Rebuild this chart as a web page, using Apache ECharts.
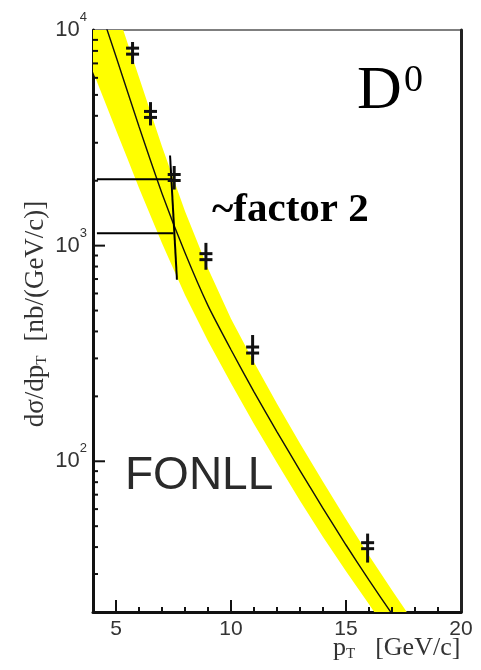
<!DOCTYPE html>
<html><head><meta charset="utf-8">
<script src="https://cdn.jsdelivr.net/npm/echarts@6/dist/echarts.min.js"></script>
<style>html,body{margin:0;padding:0;background:#fff}#c{width:481px;height:670px}</style>
</head><body><div id="c"></div>
<script>
// measured D0 cross-section points
const measPt   = [5.72, 6.5, 7.53, 8.91, 10.94, 15.94];
const measVal  = [7980, 4060, 2070, 889, 328, 40.6];
const measLow  = [6950, 3610, 1820, 773, 280, 33.9];
const measHigh = [8800, 4630, 2340, 1030, 385, 46.2];

// FONLL central curve
const fonllPt      = [4.5, 5, 6, 7, 8, 9, 10, 11, 12, 13, 14, 15, 16, 17, 17.5];
const fonllCentral = [10890, 7530, 3565, 1746, 927, 527, 329, 210, 137, 90.6, 60.5, 40.9, 28.1, 19.6, 16.4];

// FONLL uncertainty band edges
const bandUpperPt = [4, 5, 6, 7, 8, 9, 10, 11, 12, 13, 14, 15, 16, 17, 18, 18.5];
const bandUpper   = [26400, 12600, 6030, 2880, 1445, 783, 458, 288, 185, 121, 80.3, 53.8, 36.6, 25.2, 17.6, 14.7];
const bandLowerPt = [3.5, 4, 4.5, 5, 5.5, 6, 7, 8, 9, 10, 11, 12, 13, 14, 15, 16, 17, 17.5];
const bandLower   = [8410, 6400, 4700, 3440, 2530, 1850, 1026, 590, 361, 230, 149, 98.4, 65.6, 44.6, 30.9, 21.7, 15.1, 12.6];

// "~factor 2" annotation
const factorLevels = [2030, 1140];
const factorFrom   = [4.17, 4.17];
const factorTo     = [7.45, 7.5];
const factorBarPt  = [7.35, 7.65];
const factorBarVal = [2620, 695];

// ticks and labels
const xMajorTicks = [5, 10, 15];
const xMinorTicks = [6, 7, 8, 9, 11, 12, 13, 14, 16, 17, 18, 19];
const xTickLabels = [5, 10, 15, 20];
const yMajorTicks = [100, 1000];
const yMinorTicks = [20, 30, 40, 50, 60, 70, 80, 90, 200, 300, 400, 500, 600, 700, 800, 900,
                     2000, 3000, 4000, 5000, 6000, 7000, 8000, 9000];
const yTickLabels = [100, 1000, 10000];

const X_MIN = 4, X_MAX = 20, Y_MIN = 20, Y_MAX = 10000;

const chart = echarts.init(document.getElementById('c'), null, {renderer: 'canvas'});

const sans = '"Liberation Sans", Arial, sans-serif';
const serif = '"Liberation Serif", "Times New Roman", serif';

const option = {
  animation: false,
  backgroundColor: '#fff',
  grid: {left: 93, right: 20, top: 30, bottom: 58, show: true, borderColor: '#555', borderWidth: 1.5},
  xAxis: {
    type: 'value', min: X_MIN, max: X_MAX, interval: 1,
    axisLine: {show: true, lineStyle: {color: '#111', width: 3}},
    axisTick: {show: false},
    splitLine: {show: false},
    axisLabel: {
      margin: 7, color: '#333', fontFamily: sans, fontSize: 21,
      formatter: v => xTickLabels.includes(v) ? String(v) : ''
    }
  },
  yAxis: [{
    type: 'log', logBase: 10, min: Y_MIN, max: Y_MAX,
    axisLine: {show: true, lineStyle: {color: '#111', width: 3}},
    axisTick: {show: false},
    splitLine: {show: false},
    axisLabel: {
      margin: 6,
      formatter: v => {
        const e = Math.log10(v);
        const r = Math.round(e);
        if (Math.abs(e - r) < 1e-6 && yTickLabels.includes(Math.pow(10, r))) return '{b|10}{s|' + r + '}';
        return '';
      },
      rich: {
        b: {fontFamily: sans, fontSize: 22, color: '#333', lineHeight: 38},
        s: {fontFamily: sans, fontSize: 13, color: '#333', lineHeight: 13, verticalAlign: 'top'}
      }
    }
  }, {
    type: 'log', logBase: 10, min: Y_MIN, max: Y_MAX, position: 'right',
    axisLine: {show: true, lineStyle: {color: '#222', width: 3}},
    axisTick: {show: false}, axisLabel: {show: false}, splitLine: {show: false}
  }],
  series: [
    {
      name: 'band', type: 'custom', clip: true, z: 1,
      data: [[10, 100]],
      renderItem: function (params, api) {
        const pts = [];
        bandUpperPt.forEach((x, i) => pts.push(api.coord([x, bandUpper[i]])));
        for (let i = bandLowerPt.length - 1; i >= 0; i--) pts.push(api.coord([bandLowerPt[i], bandLower[i]]));
        return {type: 'polygon', shape: {points: pts}, style: {fill: '#ffff00', stroke: null}};
      }
    },
    {
      name: 'FONLL', type: 'line', z: 2, clip: true,
      data: fonllPt.map((x, i) => [x, fonllCentral[i]]),
      showSymbol: false, smooth: 0.2,
      lineStyle: {color: '#111', width: 1.4}
    },
    {
      name: 'factor', type: 'custom', clip: false, z: 3,
      data: [[10, 100]],
      renderItem: function (params, api) {
        const ch = [];
        factorLevels.forEach((lv, i) => {
          const a = api.coord([factorFrom[i], lv]);
          const b = api.coord([factorTo[i], lv]);
          ch.push({type: 'line', shape: {x1: a[0], y1: a[1], x2: b[0], y2: b[1]}, style: {stroke: '#000', lineWidth: 2}});
        });
        const p1 = api.coord([factorBarPt[0], factorBarVal[0]]);
        const p2 = api.coord([factorBarPt[1], factorBarVal[1]]);
        ch.push({type: 'line', shape: {x1: p1[0], y1: p1[1], x2: p2[0], y2: p2[1]}, style: {stroke: '#000', lineWidth: 2}});
        return {type: 'group', children: ch};
      }
    },
    {
      name: 'data', type: 'custom', clip: false, z: 4,
      data: measPt.map((x, i) => [x, measVal[i], measLow[i], measHigh[i]]),
      renderItem: function (params, api) {
        const x = api.value(0);
        const c = api.coord([x, api.value(1)]);
        const lo = api.coord([x, api.value(2)]);
        const hi = api.coord([x, api.value(3)]);
        const st = {stroke: '#111', lineWidth: 3};
        return {type: 'group', children: [
          {type: 'line', shape: {x1: c[0], y1: hi[1], x2: c[0], y2: lo[1]}, style: {stroke: '#111', lineWidth: 3}},
          {type: 'line', shape: {x1: c[0] - 6.5, y1: c[1] - 3, x2: c[0] + 6.5, y2: c[1] - 3}, style: st},
          {type: 'line', shape: {x1: c[0] - 6.5, y1: c[1] + 3, x2: c[0] + 6.5, y2: c[1] + 3}, style: st}
        ]};
      }
    },
    {
      name: 'ticks', type: 'custom', clip: false, z: 5, silent: true,
      data: [[10, 100]],
      renderItem: function (params, api) {
        const ch = [];
        const st = {stroke: '#111', lineWidth: 2};
        xMajorTicks.forEach(v => { const p = api.coord([v, Y_MIN]); ch.push({type: 'line', shape: {x1: p[0], y1: p[1], x2: p[0], y2: p[1] - 12}, style: st}); });
        xMinorTicks.forEach(v => { const p = api.coord([v, Y_MIN]); ch.push({type: 'line', shape: {x1: p[0], y1: p[1], x2: p[0], y2: p[1] - 5}, style: st}); });
        yMajorTicks.forEach(v => { const p = api.coord([X_MIN, v]); ch.push({type: 'line', shape: {x1: p[0], y1: p[1], x2: p[0] + 12, y2: p[1]}, style: st}); });
        yMinorTicks.forEach(v => { const p = api.coord([X_MIN, v]); ch.push({type: 'line', shape: {x1: p[0], y1: p[1], x2: p[0] + 5, y2: p[1]}, style: st}); });
        return {type: 'group', children: ch};
      }
    }
  ],
  graphic: [
    {type: 'text', x: 357, y: 92, style: {text: 'D', font: '62px ' + serif, fill: '#000', textVerticalAlign: 'middle'}},
    {type: 'text', x: 404, y: 81, style: {text: '0', font: '38px ' + serif, fill: '#000', textVerticalAlign: 'middle'}},
    {type: 'text', x: 212, y: 210, style: {text: '~factor 2', font: 'bold 41px ' + serif, fill: '#000', textVerticalAlign: 'middle'}},
    {type: 'text', x: 125, y: 476, style: {text: 'FONLL', font: '46px ' + sans, fill: '#2a2a2a', textVerticalAlign: 'middle'}},
    {type: 'text', x: 333, y: 648, style: {
      text: '{a|p}{t|T}{g|[GeV/c]}', fill: '#333', textVerticalAlign: 'middle',
      rich: {
        a: {font: '26px ' + serif, lineHeight: 28},
        t: {font: '15px ' + serif, lineHeight: 14, verticalAlign: 'bottom'},
        g: {font: '26px ' + serif, lineHeight: 28, padding: [0, 0, 0, 20]}
      }
    }},
    {type: 'text', x: 36, y: 314, rotation: Math.PI / 2, style: {
      text: '{a|dσ/dp}{t|T}{g|[nb/(GeV/c)]}', fill: '#333', textAlign: 'center', textVerticalAlign: 'middle',
      rich: {
        a: {font: '27px ' + serif, lineHeight: 28},
        t: {font: '15px ' + serif, lineHeight: 14, verticalAlign: 'bottom'},
        g: {font: '27px ' + serif, lineHeight: 28, padding: [0, 0, 0, 14]}
      }
    }}
  ]
};
chart.setOption(option);
</script>
</body></html>
